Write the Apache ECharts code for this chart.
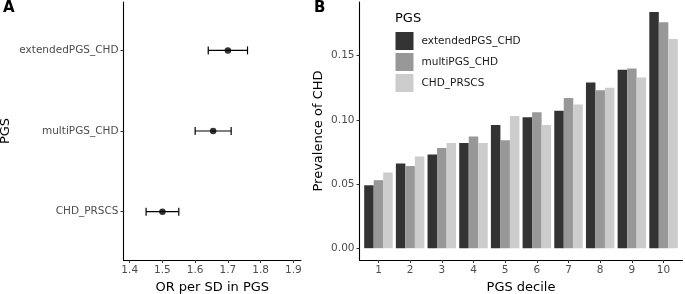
<!DOCTYPE html>
<html>
<head>
<meta charset="utf-8">
<script src="https://cdn.jsdelivr.net/npm/echarts@6/dist/echarts.min.js"></script>
<style>
  html, body { margin: 0; padding: 0; background: #fff; }
  #main { width: 685px; height: 294px; }
</style>
</head>
<body>
<div id="main"></div>
<script>
// panel A: OR per SD, bottom to top
const pgsNames = ['CHD_PRSCS', 'multiPGS_CHD', 'extendedPGS_CHD'];
const pgsPos = [1, 2, 3];
const orEst = [1.50, 1.655, 1.70];
const orLow = [1.45, 1.60, 1.64];
const orHigh = [1.55, 1.71, 1.76];
const orTicks = [1.4, 1.5, 1.6, 1.7, 1.8, 1.9];

// panel B: prevalence by decile
const deciles = ['1', '2', '3', '4', '5', '6', '7', '8', '9', '10'];
const decileTicks = [1, 2, 3, 4, 5, 6, 7, 8, 9, 10];
const extendedPGS = [0.049, 0.066, 0.073, 0.082, 0.096, 0.102, 0.107, 0.129, 0.139, 0.184];
const multiPGS = [0.053, 0.064, 0.078, 0.087, 0.084, 0.106, 0.117, 0.123, 0.140, 0.176];
const prscs = [0.059, 0.0715, 0.082, 0.082, 0.103, 0.096, 0.112, 0.125, 0.133, 0.163];
const prevTicks = [0, 0.05, 0.10, 0.15];

const FONT = 'DejaVu Sans';
const tickLabel = { color: '#4d4d4d', fontSize: 10.5, fontFamily: FONT };
const axisName = { color: '#000', fontSize: 13, fontFamily: FONT };
const line = { show: true, onZero: false, lineStyle: { color: '#000', width: 1.1 } };

var chart = echarts.init(document.getElementById('main'));

var option = {
  animation: false,
  textStyle: { fontFamily: FONT },
  grid: [
    { left: 123.5, top: 2, width: 177.5, height: 258, outerBoundsMode: 'none', containLabel: false },
    { left: 362.6, top: 2, width: 316.8, height: 258, outerBoundsMode: 'none', containLabel: false },
    { left: 359.5, top: 2, width: 323, height: 258, outerBoundsMode: 'none', containLabel: false }
  ],
  legend: {
    orient: 'vertical',
    left: 395.5, top: 32,
    itemWidth: 18, itemHeight: 18, itemGap: 3,
    padding: 0,
    icon: 'rect',
    data: ['extendedPGS_CHD', 'multiPGS_CHD', 'CHD_PRSCS'],
    textStyle: { color: '#1a1a1a', fontSize: 10.5, fontFamily: FONT, padding: [0, 0, 0, 3] }
  },
  graphic: [
    { type: 'text', left: 3, top: 1, style: { text: 'A', font: 'bold 15px "DejaVu Sans"', fill: '#000' } },
    { type: 'text', left: 314, top: 1, style: { text: 'B', font: 'bold 15px "DejaVu Sans"', fill: '#000' } },
    { type: 'text', left: 395, top: 12, style: { text: 'PGS', font: '13px "DejaVu Sans"', fill: '#000' } }
  ],
  xAxis: [
    {
      gridIndex: 0, type: 'value', min: 1.381, max: 1.9235,
      name: 'OR per SD in PGS', nameLocation: 'middle', nameGap: 18, nameTextStyle: axisName,
      axisLine: line,
      axisTick: { length: 3, lineStyle: { color: '#333' }, customValues: orTicks },
      axisLabel: Object.assign({ margin: 5, customValues: orTicks, formatter: v => v.toFixed(1) }, tickLabel),
      splitLine: { show: false }
    },
    {
      gridIndex: 1, type: 'category', data: deciles, show: false
    },
    {
      gridIndex: 2, type: 'value', min: 0.4, max: 10.6,
      name: 'PGS decile', nameLocation: 'middle', nameGap: 18, nameTextStyle: axisName,
      axisLine: line,
      axisTick: { length: 3, lineStyle: { color: '#333' }, customValues: decileTicks },
      axisLabel: Object.assign({ margin: 5, customValues: decileTicks, formatter: v => String(v) }, tickLabel),
      splitLine: { show: false }
    }
  ],
  yAxis: [
    {
      gridIndex: 0, type: 'value', min: 0.4, max: 3.6,
      name: 'PGS', nameLocation: 'middle', nameGap: 111, nameTextStyle: axisName,
      axisLine: line,
      axisTick: { length: 3, lineStyle: { color: '#333' }, customValues: pgsPos },
      axisLabel: Object.assign({ margin: 5, customValues: pgsPos, formatter: v => pgsNames[Math.round(v) - 1] }, tickLabel),
      splitLine: { show: false }
    },
    {
      gridIndex: 1, type: 'value', min: -0.0092, max: 0.1918, show: false, splitLine: { show: false }
    },
    {
      gridIndex: 2, type: 'value', min: -0.0092, max: 0.1918,
      name: 'Prevalence of CHD', nameLocation: 'middle', nameGap: 34, nameTextStyle: axisName,
      axisLine: line,
      axisTick: { length: 3, lineStyle: { color: '#333' }, customValues: prevTicks },
      axisLabel: Object.assign({ margin: 5, customValues: prevTicks, formatter: v => v.toFixed(2) }, tickLabel),
      splitLine: { show: false }
    }
  ],
  series: [
    {
      type: 'custom', xAxisIndex: 0, yAxisIndex: 0,
      data: pgsPos.map((p, i) => [orLow[i], orHigh[i], p]),
      renderItem: function (params, api) {
        var a = api.coord([api.value(0), api.value(2)]);
        var b = api.coord([api.value(1), api.value(2)]);
        var h = 4;
        var st = { stroke: '#000', lineWidth: 1.2 };
        return {
          type: 'group',
          children: [
            { type: 'line', shape: { x1: a[0], y1: a[1], x2: b[0], y2: b[1] }, style: st },
            { type: 'line', shape: { x1: a[0], y1: a[1] - h, x2: a[0], y2: a[1] + h }, style: st },
            { type: 'line', shape: { x1: b[0], y1: b[1] - h, x2: b[0], y2: b[1] + h }, style: st }
          ]
        };
      }
    },
    {
      type: 'scatter', xAxisIndex: 0, yAxisIndex: 0,
      symbolSize: 6.5, itemStyle: { color: '#000' }, z: 5,
      data: pgsPos.map((p, i) => [orEst[i], p])
    },
    {
      name: 'extendedPGS_CHD', type: 'bar', xAxisIndex: 1, yAxisIndex: 1,
      data: extendedPGS, itemStyle: { color: '#333333' },
      barGap: '0%', barCategoryGap: '10%'
    },
    {
      name: 'multiPGS_CHD', type: 'bar', xAxisIndex: 1, yAxisIndex: 1,
      data: multiPGS, itemStyle: { color: '#989898' },
      barGap: '0%', barCategoryGap: '10%'
    },
    {
      name: 'CHD_PRSCS', type: 'bar', xAxisIndex: 1, yAxisIndex: 1,
      data: prscs, itemStyle: { color: '#cccccc' },
      barGap: '0%', barCategoryGap: '10%'
    }
  ]
};

option && chart.setOption(option);
</script>
</body>
</html>
